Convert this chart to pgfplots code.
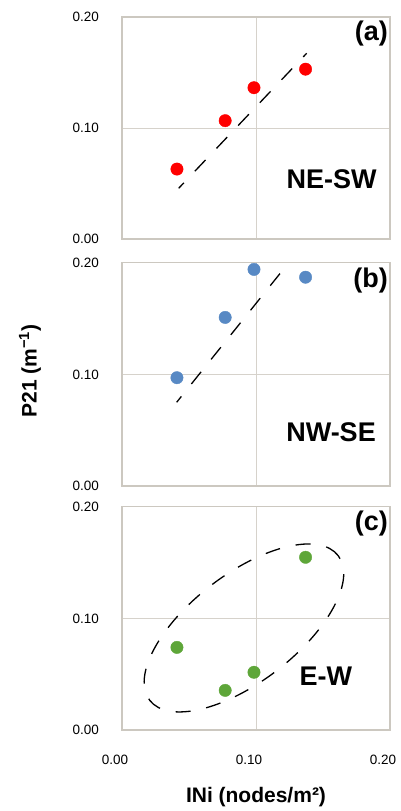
\documentclass[border=0pt]{standalone}
\usepackage{pgfplots}
\pgfplotsset{compat=1.18}
\usepackage{fontspec}
\setmainfont{Liberation Sans}
\definecolor{frame}{RGB}{204,200,192}
\definecolor{gridc}{RGB}{214,210,203}
\definecolor{ptred}{RGB}{255,0,0}
\definecolor{ptblue}{RGB}{88,137,196}
\definecolor{ptgreen}{RGB}{94,166,57}
\pgfplotsset{
  panel/.style={
    width=268pt, scale only axis,
    xmin=0, xmax=0.2, ymin=0, ymax=0.2,
    xtick={0,0.1,0.2}, ytick={0,0.1,0.2},
    major tick length=0pt,
    grid=major,
    major grid style={color=gridc, line width=0.9pt},
    axis line style={color=frame, line width=1.4pt},
    clip=false,
    /pgf/number format/.cd, fixed, fixed zerofill, precision=2, assume math mode=true,
    /pgfplots/.cd,
    tick label style={font=\fontsize{13.5}{15}\selectfont, inner sep=0pt},
    yticklabel style={anchor=east, xshift=-23pt},
    xticklabel style={anchor=north, yshift=-25pt, xshift=-7pt},
  },
  trend/.style={black, line width=1.3pt, dash pattern=on 15.5pt off 16pt, dash phase=8pt, mark=none},
  pts/.style={only marks, mark=*, mark size=6.2pt},
}
\begin{document}
\begin{tikzpicture}
\useasboundingbox (0,0) rectangle (401pt,-811pt);
% panel (a)
\begin{axis}[panel, height=222pt, at={(122pt,-239pt)}, anchor=south west, xticklabels={}]
\addplot[trend] coordinates {(0.0423,0.0457) (0.1378,0.1673)};
\addplot[pts, color=ptred, fill=ptred] coordinates {(0.041,0.063) (0.077,0.1066) (0.0985,0.1363) (0.137,0.153)};
\node[anchor=east, inner sep=0pt, font=\bfseries\fontsize{27}{30}\selectfont] at (axis description cs:0.9925,0.925) {(a)};
\node[anchor=center, inner sep=0pt, font=\bfseries\fontsize{27}{30}\selectfont] at (axis description cs:0.7825,0.27) {NE-SW};
\end{axis}
% panel (b)
\begin{axis}[panel, height=223.3pt, at={(122pt,-486pt)}, anchor=south west, xticklabels={},
  ylabel={P21 (m\textsuperscript{−1})},
  ylabel style={at={(axis description cs:-0.343,0.515)}, anchor=center, inner sep=0pt, font=\bfseries\fontsize{21}{24}\selectfont}]
\addplot[trend] coordinates {(0.0408,0.075) (0.1244,0.2)};
\addplot[pts, color=ptblue, fill=ptblue] coordinates {(0.041,0.097) (0.077,0.151) (0.0985,0.194) (0.137,0.187)};
\node[anchor=east, inner sep=0pt, font=\bfseries\fontsize{27}{30}\selectfont] at (axis description cs:0.9925,0.922) {(b)};
\node[anchor=center, inner sep=0pt, font=\bfseries\fontsize{27}{30}\selectfont] at (axis description cs:0.78,0.243) {NW-SE};
\end{axis}
% panel (c)
\begin{axis}[panel, height=223.3pt, at={(122pt,-730pt)}, anchor=south west,
  xlabel={INi (nodes/m²)},
  xlabel style={at={(axis description cs:0.5,-0.30)}, anchor=center, inner sep=0pt, font=\bfseries\fontsize{21}{24}\selectfont}]
\coordinate (ec) at (axis cs:0.091,0.0914);
\addplot[pts, color=ptgreen, fill=ptgreen] coordinates {(0.041,0.074) (0.077,0.0355) (0.0985,0.0517) (0.137,0.1547)};
\node[anchor=east, inner sep=0pt, font=\bfseries\fontsize{27}{30}\selectfont] at (axis description cs:0.9925,0.9225) {(c)};
\node[anchor=center, inner sep=0pt, font=\bfseries\fontsize{27}{30}\selectfont] at (axis description cs:0.761,0.242) {E-W};
\end{axis}
\draw[black, line width=1.3pt, dash pattern=on 15pt off 16pt, rotate around={37.5:(ec)}] (ec) ellipse [x radius=118.8pt, y radius=53.8pt];
\end{tikzpicture}
\end{document}
